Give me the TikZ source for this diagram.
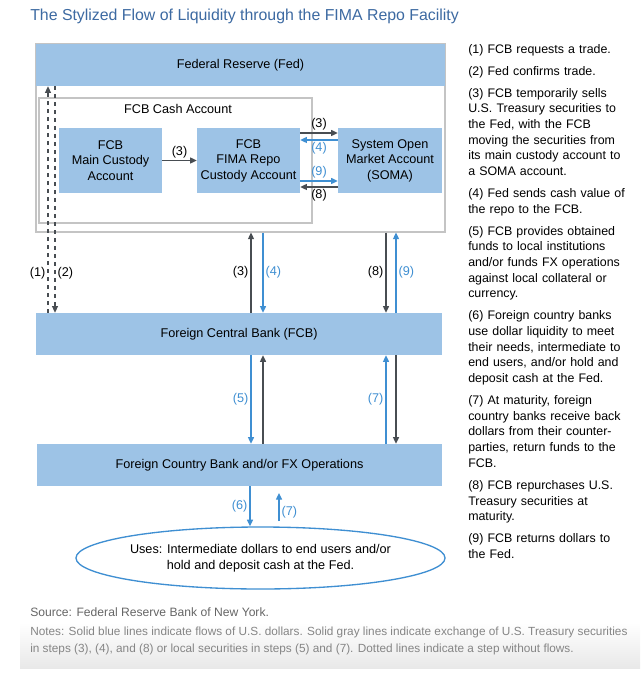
\documentclass[tikz,border=0pt]{standalone}
\usepackage{fontspec}
\setmainfont{Liberation Sans}
\usetikzlibrary{arrows.meta,calc,shapes.geometric}
\definecolor{boxblue}{HTML}{9DC3E6}
\definecolor{flowblue}{HTML}{3F8FD2}
\definecolor{secgray}{HTML}{484D52}
\definecolor{linegray}{HTML}{C4C4C4}
\definecolor{titleblue}{HTML}{3D6AA2}
\definecolor{srcgray}{HTML}{666666}
\definecolor{notegray}{HTML}{858585}
\begin{document}
\begin{tikzpicture}[x=0.75pt,y=-0.75pt,
	font=\fontsize{9.5}{11.6}\selectfont,
	acct/.style={fill=boxblue,minimum width=77.25pt,minimum height=48.75pt,inner sep=0pt,align=center},
	band/.style={fill=boxblue,minimum height=31.5pt,inner sep=0pt},
	frame/.style={draw=linegray,line width=0.8pt,inner sep=0pt},
	usd/.style={draw=flowblue,line width=1pt,-{Triangle[length=5pt,width=4.5pt]}},
	sec/.style={draw=secgray,line width=1pt,-{Triangle[length=5pt,width=4.5pt]}},
	nostep/.style={draw=secgray,line width=0.8pt,dashed,-{Triangle[length=5pt,width=4.5pt]}},
	lbl/.style={inner sep=1.5pt},
	]
	\fill[white] (0,0) rectangle (640,673);
	\useasboundingbox (0,0) rectangle (640,673);
	\shade[top color=white,bottom color=black!9] (20,622) rectangle (640,668);
	\node (title) at (30,16) [anchor=west,inner sep=0,text=titleblue,font=\fontsize{11.9}{14}\selectfont] {The Stylized Flow of Liquidity through the FIMA Repo Facility};
	\node (fedarea) at (240.5,138) [frame,minimum width=306.75pt,minimum height=141pt] {};
	\node (fed) at (240.5,65) [band,minimum width=306.75pt] {Federal Reserve (Fed)};
	\node (cash) at (175.5,160.5) [frame,minimum width=204.75pt,minimum height=93.75pt] {};
	\node (cashlbl) at (178,109) {FCB Cash Account};
	\node (main) at (110.5,160.5) [acct] {FCB\\Main Custody\\Account};
	\node (fima) at (248.5,160.5) [acct] {FCB\\FIMA Repo\\Custody Account};
	\node (soma) at (390,160.5) [acct,minimum width=78pt] {System Open\\Market Account\\(SOMA)};
	\node (fcb) at (239,334) [band,minimum width=304.5pt] {Foreign Central Bank (FCB)};
	\node (fcbk) at (239.5,465) [band,minimum width=303.75pt] {Foreign Country Bank and/or FX Operations};
	\node (uses) at (260.5,558) [ellipse,draw=flowblue,line width=1pt,minimum width=242.25pt,minimum height=46.5pt,inner sep=0pt,align=center] {Uses: Intermediate dollars to end users and/or\\hold and deposit cash at the Fed.};
	\coordinate (laneA) at (251,0);
	\coordinate (laneB) at (263,0);
	\coordinate (laneC) at (386,0);
	\coordinate (laneD) at (396,0);
	\coordinate (laneE) at (48,0);
	\coordinate (laneF) at (55,0);
	\coordinate (laneG) at (250,0);
	\coordinate (ret7a) at (279,521);
	\coordinate (ret7b) at (279,493);
	\draw[sec] (main) -- node[lbl,above] {(3)} (fima);
	\draw[sec] ($(fima.east)+(0,-27.5)$) -- node[lbl,above] {(3)} ($(soma.west)+(0,-27.5)$);
	\draw[usd] ($(soma.west)+(0,-20.5)$) -- node[lbl,below,text=flowblue] {(4)} ($(fima.east)+(0,-20.5)$);
	\draw[usd] ($(fima.east)+(0,20.5)$) -- node[lbl,above,text=flowblue] {(9)} ($(soma.west)+(0,20.5)$);
	\draw[sec] ($(soma.west)+(0,26.5)$) -- node[lbl,below] {(8)} ($(fima.east)+(0,26.5)$);
	\draw[nostep] (fcb.north -| laneE) -- node[lbl,left,pos=0.176] {(1)} (fed.south -| laneE);
	\draw[nostep] (fed.south -| laneF) -- node[lbl,right,pos=0.824] {(2)} (fcb.north -| laneF);
	\draw[sec] (fcb.north -| laneA) -- node[lbl,left] {(3)} (fedarea.south -| laneA);
	\draw[usd] (fedarea.south -| laneB) -- node[lbl,right,text=flowblue] {(4)} (fcb.north -| laneB);
	\draw[sec] (fedarea.south -| laneC) -- node[lbl,left] {(8)} (fcb.north -| laneC);
	\draw[usd] (fcb.north -| laneD) -- node[lbl,right,text=flowblue] {(9)} (fedarea.south -| laneD);
	\draw[usd] (fcb.south -| laneA) -- node[lbl,left,text=flowblue] {(5)} (fcbk.north -| laneA);
	\draw[sec] (fcbk.north -| laneB) -- (fcb.south -| laneB);
	\draw[usd] (fcbk.north -| laneC) -- node[lbl,left,text=flowblue] {(7)} (fcb.south -| laneC);
	\draw[sec] (fcb.south -| laneD) -- (fcbk.north -| laneD);
	\draw[usd] (fcbk.south -| laneG) -- node[lbl,left,text=flowblue] {(6)} (uses.north -| laneG);
	\draw[usd] (ret7a) -- node[lbl,right,pos=0.3,text=flowblue] {(7)} (ret7b);
	\node (steps) at (468,44) [anchor=north west,inner sep=0pt,text width=140pt,align=left,font=\fontsize{9.3}{11.78}\selectfont] {\setlength\parskip{4.65pt}%
		(1) FCB requests a trade.\par
		(2) Fed confirms trade.\par
		(3) FCB temporarily sells\\U.S. Treasury securities to\\the Fed, with the FCB\\moving the securities from\\its main custody account to\\a SOMA account.\par
		(4) Fed sends cash value of\\the repo to the FCB.\par
		(5) FCB provides obtained\\funds to local institutions\\and/or funds FX operations\\against local collateral or\\currency.\par
		(6) Foreign country banks\\use dollar liquidity to meet\\their needs, intermediate to\\end users, and/or hold and\\deposit cash at the Fed.\par
		(7) At maturity, foreign\\country banks receive back\\dollars from their counter-\\parties, return funds to the\\FCB.\par
		(8) FCB repurchases U.S.\\Treasury securities at\\maturity.\par
		(9) FCB returns dollars to\\the Fed.};
	\node (src) at (30,612) [anchor=west,inner sep=0pt,text=srcgray,font=\fontsize{9.1}{12}\selectfont] {Source: Federal Reserve Bank of New York.};
	\node (notes) at (30,641) [anchor=west,inner sep=0pt,align=left,text=notegray,font=\fontsize{8.85}{12.4}\selectfont] {Notes: Solid blue lines indicate flows of U.S. dollars. Solid gray lines indicate exchange of U.S. Treasury securities\\in steps (3), (4), and (8) or local securities in steps (5) and (7). Dotted lines indicate a step without flows.};
\end{tikzpicture}
\end{document}
